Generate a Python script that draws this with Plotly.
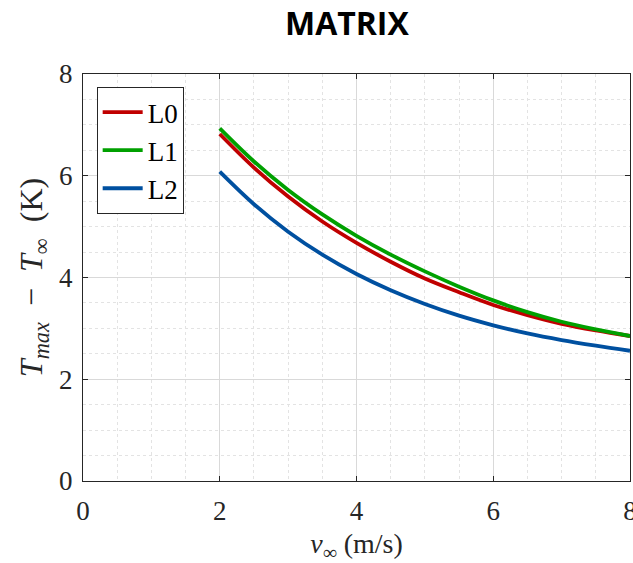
import plotly.graph_objects as go

x_vals = [2, 2.5, 3, 3.5, 4, 4.5, 5, 5.5, 6, 6.5, 7, 7.5, 8]
L0 = [6.82, 6.16, 5.59, 5.10, 4.68, 4.31, 3.98, 3.71, 3.46, 3.26, 3.09, 2.96, 2.85]
L1 = [6.93, 6.28, 5.72, 5.24, 4.82, 4.45, 4.12, 3.82, 3.55, 3.32, 3.13, 2.98, 2.85]
L2 = [6.08, 5.44, 4.90, 4.45, 4.07, 3.75, 3.48, 3.25, 3.06, 2.90, 2.77, 2.66, 2.56]
names = ["L0", "L1", "L2"]
colors = ["#C00000", "#00A000", "#0050A0"]
x_ticks = [0, 2, 4, 6, 8]
y_ticks = [0, 2, 4, 6, 8]

serif = "Liberation Serif, DejaVu Serif, serif"
nb = "\u00a0"

fig = go.Figure()
for name, ys, c in zip(names, [L0, L1, L2], colors):
    fig.add_trace(go.Scatter(x=x_vals, y=ys, mode="lines", name=name,
                             line=dict(color=c, width=3.8, shape="spline", smoothing=1.0)))

axis_common = dict(
    showline=True, linecolor="#262626", linewidth=1, mirror="ticks",
    ticks="inside", ticklen=5, tickcolor="#262626",
    showgrid=True, gridcolor="#d9d9d9", gridwidth=1,
    zeroline=False, automargin=False,
    tickfont=dict(family=serif, size=27, color="#262626"),
    ticklabeloverflow="allow",
    minor=dict(dtick=0.5, showgrid=True, gridcolor="#e3e3e3", griddash="dot", ticks=""),
)

fig.update_xaxes(range=[0, 8], tickvals=x_ticks, ticktext=[str(t) for t in x_ticks],
                 ticklabelstandoff=6,
                 title=dict(text="<i>v</i><sub>∞</sub>" + nb + "(m/s)",
                            font=dict(family=serif, size=28, color="#262626"), standoff=12),
                 **axis_common)
fig.update_yaxes(range=[0, 8], tickvals=y_ticks, ticktext=[str(t) for t in y_ticks],
                 ticklabelstandoff=4,
                 title=dict(text="<i>T</i><sub><i>max</i></sub>" + nb * 2 + "−" + nb * 2 +
                                 "<i>T</i><sub>∞</sub>" + nb * 2 + "(K)",
                            font=dict(family=serif, size=32, color="#262626"), standoff=6),
                 **axis_common)

fig.update_layout(
    width=633, height=563,
    margin=dict(l=83, r=3, t=74, b=82),
    paper_bgcolor="white", plot_bgcolor="white",
    title=dict(text="<b>MATRIX</b>", x=0.548, xanchor="center", y=1 - 24 / 563, yanchor="middle",
               font=dict(family="Open Sans, sans-serif", size=32, color="black")),
    legend=dict(x=0.025, y=0.968, xanchor="left", yanchor="top",
                bgcolor="white", bordercolor="#262626", borderwidth=1,
                font=dict(family=serif, size=27, color="black"),
                itemwidth=40),
    showlegend=True,
)

fig.write_html("out.html")
